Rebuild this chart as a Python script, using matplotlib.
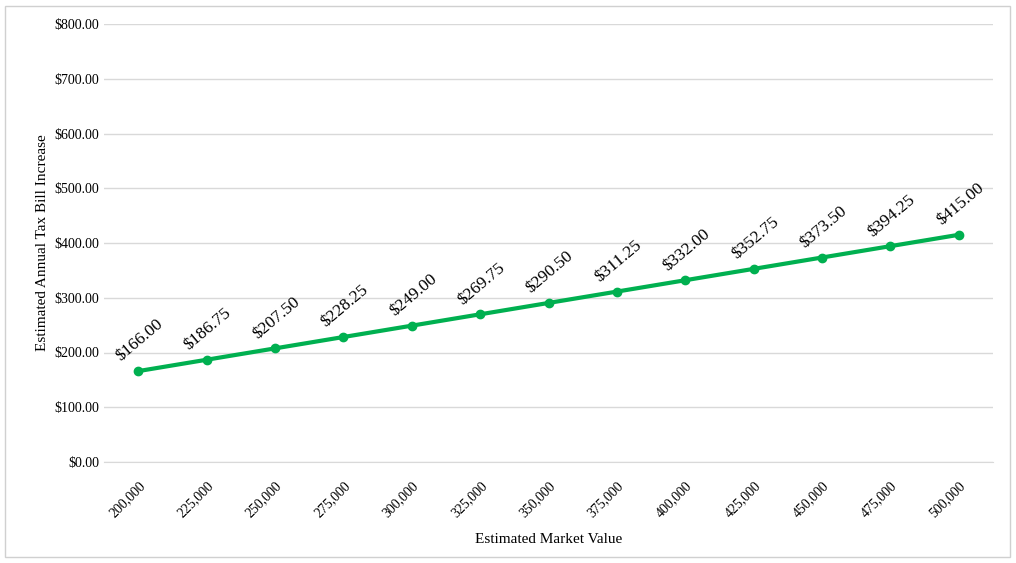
import matplotlib
matplotlib.use("Agg")
import matplotlib.pyplot as plt
from matplotlib.patches import Rectangle

categories = ["200,000","225,000","250,000","275,000","300,000","325,000","350,000",
              "375,000","400,000","425,000","450,000","475,000","500,000"]
values = [166.00,186.75,207.50,228.25,249.00,269.75,290.50,311.25,332.00,352.75,373.50,394.25,415.00]
yticks = [0,100,200,300,400,500,600,700,800]

plt.rcParams["font.family"] = "Liberation Serif"
fig = plt.figure(figsize=(10.16,5.63), dpi=100)
fig.patches.append(Rectangle((0.005,0.01),0.989,0.98, transform=fig.transFigure,
                             fill=False, edgecolor="#d0d0d0", lw=1))
ax = fig.add_axes([104/1016, 1-462/563, (993-104)/1016, (462-24)/563])
x = list(range(len(categories)))
ax.plot(x, values, color="#00b050", lw=3, marker="o", ms=6, zorder=3)
for xi, v in zip(x, values):
    ax.annotate(f"${v:.2f}", (xi, v), xytext=(1, 22), textcoords="offset points",
                rotation=40, ha="center", va="center", fontsize=12.5, rotation_mode="anchor")
ax.set_xlim(-0.5, len(categories)-0.5)
ax.set_ylim(0, 800)
ax.set_yticks(yticks)
ax.set_yticklabels([f"${t:.2f}" for t in yticks], fontsize=10)
ax.set_xticks(x)
ax.set_xticklabels(categories, rotation=45, ha="right", rotation_mode="anchor", fontsize=10)
ax.tick_params(axis="x", pad=12)
ax.grid(axis="y", color="#d9d9d9", lw=1)
ax.set_axisbelow(True)
for s in ["top","right","left"]:
    ax.spines[s].set_visible(False)
ax.spines["bottom"].set_color("#d9d9d9")
ax.tick_params(length=0)
ax.set_xlabel("Estimated Market Value", fontsize=11, labelpad=10)
ax.set_ylabel("Estimated Annual Tax Bill Increase", fontsize=11)
fig.savefig("out.png", dpi=100)
